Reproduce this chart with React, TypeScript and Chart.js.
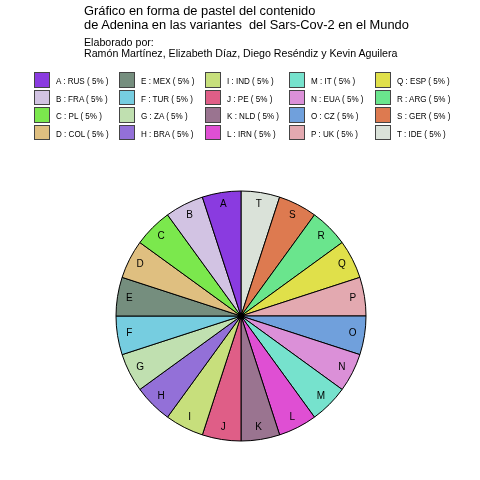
import React, { useEffect, useRef } from "react";
import { Chart, registerables } from "chart.js";
Chart.register(...registerables);

const letters = ["A","B","C","D","E","F","G","H","I","J","K","L","M","N","O","P","Q","R","S","T"];
const countries = ["RUS","FRA","PL","COL","MEX","TUR","ZA","BRA","IND","PE","NLD","IRN","IT","EUA","CZ","UK","ESP","ARG","GER","IDE"];
const percents = [5,5,5,5,5,5,5,5,5,5,5,5,5,5,5,5,5,5,5,5];
const colors = [
  "#8a3be0","#d2c3e3","#7be84d","#dfbf80","#758e7e","#76cde0","#c0e0b0","#9370d8",
  "#c7df7c","#df5e87","#9a7490","#df4fd3","#76e2cd","#db90d8","#70a0dc","#e3a9b0",
  "#e0e04a","#6ae58d","#dd7a50","#dae2d9"
];
const titleLines = ["Gráfico en forma de pastel del contenido", "de Adenina en las variantes  del Sars-Cov-2 en el Mundo"];
const subtitleLines = ["Elaborado por:", "Ramón Martínez, Elizabeth Díaz, Diego Reséndiz y Kevin Aguilera"];

const FONT = "'Liberation Sans', Arial, Helvetica, sans-serif";

const sliceLabels = {
  id: "sliceLabels",
  afterDatasetsDraw(chart: any) {
    const ctx = chart.ctx;
    const meta = chart.getDatasetMeta(0);
    const labels = chart.data.labels as string[];
    ctx.save();
    ctx.font = `10px ${FONT}`;
    ctx.fillStyle = "#000";
    ctx.textAlign = "center";
    ctx.textBaseline = "middle";
    let cx = 0, cy = 0;
    meta.data.forEach((arc: any, i: number) => {
      const p = arc.getProps(["x","y","startAngle","endAngle","outerRadius"], true);
      const mid = (p.startAngle + p.endAngle) / 2;
      const r = p.outerRadius * 0.905;
      ctx.fillText(labels[i], p.x + Math.cos(mid) * r, p.y + Math.sin(mid) * r);
      cx = p.x; cy = p.y;
    });
    ctx.beginPath();
    ctx.arc(cx, cy, 3.5, 0, Math.PI * 2);
    ctx.fillStyle = "#000";
    ctx.fill();
    ctx.restore();
  },
};

export default function App() {
  const ref = useRef<HTMLCanvasElement>(null);
  useEffect(() => {
    const order = letters.map((_, i) => i).reverse();
    const chart = new Chart(ref.current!, {
      type: "pie",
      data: {
        labels: order.map((i) => letters[i]),
        datasets: [{
          data: order.map((i) => percents[i]),
          backgroundColor: order.map((i) => colors[i]),
          borderColor: "#000",
          borderWidth: 1,
          radius: 125,
        } as any],
      },
      options: {
        responsive: false,
        animation: false,
        layout: { padding: { left: 2, right: 0, top: 152, bottom: 0 } },
        plugins: { legend: { display: false }, tooltip: { enabled: false } },
      },
      plugins: [sliceLabels],
    });
    return () => chart.destroy();
  }, []);

  const colLefts = [34, 119, 205, 289, 375];
  const rowTops = [72, 89.5, 107, 124.5];

  return (
    <div style={{ position: "fixed", left: 0, top: 0, width: 480, height: 480, background: "#fff", fontFamily: FONT, color: "#000" }}>
      <canvas ref={ref} width={480} height={480} style={{ position: "absolute", left: 0, top: 0 }} />
      {titleLines.map((t, i) => (
        <div key={"t" + i} style={{ position: "absolute", left: 84, top: 5.4 + i * 13.5, fontSize: 12.85, lineHeight: "12.85px", whiteSpace: "pre" }}>{t}</div>
      ))}
      {subtitleLines.map((t, i) => (
        <div key={"s" + i} style={{ position: "absolute", left: 84, top: 37.1 + i * 11.3, fontSize: 10.65, lineHeight: "10.65px", whiteSpace: "pre" }}>{t}</div>
      ))}
      {letters.map((l, i) => {
        const col = Math.floor(i / 4);
        const row = i % 4;
        return (
          <div key={"l" + i}>
            <div style={{ position: "absolute", left: colLefts[col], top: rowTops[row], width: 15.5, height: 15.5, boxSizing: "border-box", border: "1.5px solid #444", background: colors[i] }} />
            <div style={{ position: "absolute", left: colLefts[col] + 21.5, top: rowTops[row] + 1, height: 15.5, display: "flex", alignItems: "center", fontSize: 9.5, whiteSpace: "pre", transform: "scaleX(0.85)", transformOrigin: "left center" }}>{`${l} : ${countries[i]} ( ${percents[i]}% )`}</div>
          </div>
        );
      })}
    </div>
  );
}
